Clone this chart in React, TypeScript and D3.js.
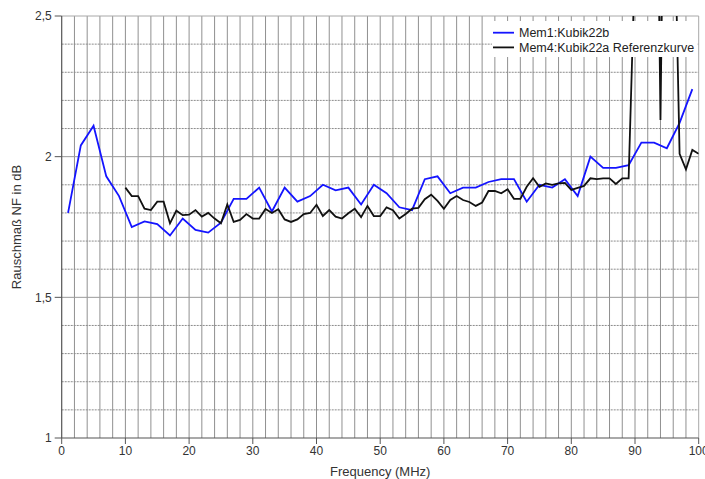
import React from "react";
import * as d3 from "d3";

// Mem1: Kubik22b, measured every 2 MHz
const blueFreq = [1, 3, 5, 7, 9, 11, 13, 15, 17, 19, 21, 23, 25, 27, 29, 31, 33, 35, 37, 39,
  41, 43, 45, 47, 49, 51, 53, 55, 57, 59, 61, 63, 65, 67, 69, 71, 73, 75, 77, 79,
  81, 83, 85, 87, 89, 91, 93, 95, 97, 99];
const blueNF = [1.80, 2.04, 2.11, 1.93, 1.86, 1.75, 1.77, 1.76, 1.72, 1.78, 1.74, 1.73, 1.765, 1.85, 1.85, 1.89, 1.805, 1.89, 1.84, 1.86,
  1.90, 1.88, 1.89, 1.83, 1.90, 1.87, 1.82, 1.81, 1.92, 1.93, 1.87, 1.89, 1.89, 1.91, 1.92, 1.92, 1.84, 1.90, 1.89, 1.92,
  1.86, 2.00, 1.96, 1.96, 1.97, 2.05, 2.05, 2.03, 2.12, 2.24];

// Mem4: Kubik22a Referenzkurve, measured every 1 MHz
const blackFreq = [10, 11, 12, 13, 14, 15, 16, 17, 18, 19, 20, 21, 22, 23, 24, 25, 26, 27, 28, 29,
  30, 31, 32, 33, 34, 35, 36, 37, 38, 39, 40, 41, 42, 43, 44, 45, 46, 47, 48, 49,
  50, 51, 52, 53, 54, 55, 56, 57, 58, 59, 60, 61, 62, 63, 64, 65, 66, 67, 68, 69,
  70, 71, 72, 73, 74, 75, 76, 77, 78, 79, 80, 81, 82, 83, 84, 85, 86, 87, 88, 89,
  90, 91, 92, 93, 94, 95, 96, 97, 98, 99, 100];
const blackNF = [1.89, 1.86, 1.86, 1.815, 1.81, 1.84, 1.84, 1.763, 1.808, 1.792, 1.794, 1.81, 1.787, 1.80, 1.78, 1.763, 1.83, 1.768, 1.775, 1.796,
  1.78, 1.78, 1.814, 1.80, 1.813, 1.777, 1.768, 1.777, 1.796, 1.80, 1.829, 1.789, 1.81, 1.787, 1.78, 1.799, 1.815, 1.785, 1.825, 1.789,
  1.789, 1.82, 1.81, 1.78, 1.796, 1.815, 1.818, 1.849, 1.865, 1.843, 1.815, 1.846, 1.86, 1.846, 1.839, 1.825, 1.837, 1.878, 1.878, 1.87,
  1.884, 1.85, 1.85, 1.893, 1.923, 1.893, 1.905, 1.90, 1.905, 1.907, 1.882, 1.889, 1.896, 1.923, 1.92, 1.923, 1.923, 1.903, 1.923, 1.923,
  2.7, 3.3, 3.6, 4.0, 2.13, 4.0, 3.1, 2.01, 1.955, 2.024, 2.01];

const xTicks = [0, 10, 20, 30, 40, 50, 60, 70, 80, 90, 100];
const yTicks = [1, 1.5, 2, 2.5];
const yTickLabels = ["1", "1,5", "2", "2,5"];

const legendItems = [
  { name: "Mem1:Kubik22b", color: "#1414ff" },
  { name: "Mem4:Kubik22a Referenzkurve", color: "#111111" },
];

const W = 705;
const H = 479;
const font = "'Liberation Sans', Arial, sans-serif";

export default function App() {
  const x = d3.scaleLinear().domain([0, 100]).range([61.7, 698.7]);
  const y = d3.scaleLinear().domain([1, 2.5]).range([438, 16]);

  const line = d3.line<[number, number]>()
    .x(d => x(d[0]))
    .y(d => y(d[1]));

  const blue = blueFreq.map((f, i) => [f, blueNF[i]] as [number, number]);
  const black = blackFreq.map((f, i) => [f, blackNF[i]] as [number, number]);

  const vGrid = d3.range(2, 100, 2);
  const hGrid = d3.range(11, 25, 1).map(v => v / 10).filter(v => Math.abs(v * 10 % 5) > 0.01);
  const [x0, x1] = x.range();
  const [yb, yt] = y.range();

  return (
    <div style={{ position: "absolute", left: 0, top: 0 }}>
      <svg width={W} height={H} style={{ display: "block", background: "#fff" }}>
        <defs>
          <clipPath id="plot">
            <rect x={x0} y={yt} width={x1 - x0} height={yb - yt} />
          </clipPath>
        </defs>

        {/* grid */}
        {vGrid.map(f => (
          <line key={"v" + f} x1={x(f)} x2={x(f)} y1={yt} y2={yb} stroke="#909090" strokeWidth={1} />
        ))}
        {hGrid.map(v => (
          <line key={"h" + v} x1={x0} x2={x1} y1={y(v)} y2={y(v)} stroke="#8c8c8c" strokeWidth={1} strokeDasharray="2,1" />
        ))}
        {[1.5, 2].map(v => (
          <line key={"m" + v} x1={x0} x2={x1} y1={y(v)} y2={y(v)} stroke="#9a9a9a" strokeWidth={1} />
        ))}
        <line x1={x0} x2={x1} y1={yt} y2={yt} stroke="#a8a8a8" />
        <line x1={x1} x2={x1} y1={yt} y2={yb} stroke="#a8a8a8" />

        {/* series */}
        <g clipPath="url(#plot)">
          <path d={line(blue) ?? ""} fill="none" stroke={legendItems[0].color} strokeWidth={1.8} strokeLinejoin="miter" />
          <path d={line(black) ?? ""} fill="none" stroke={legendItems[1].color} strokeWidth={1.8} strokeLinejoin="miter" />
        </g>

        {/* axes */}
        <line x1={x0} x2={x0} y1={yt} y2={yb} stroke="#555" strokeWidth={1.2} />
        <line x1={x0} x2={x1} y1={yb} y2={yb} stroke="#555" strokeWidth={1.2} />
        {yTicks.map((v, i) => (
          <g key={"yt" + v}>
            <line x1={x0 - 7} x2={x0} y1={y(v)} y2={y(v)} stroke="#555" />
            <text x={x0 - 10} y={y(v)} dy="0.35em" textAnchor="end" fontFamily={font} fontSize={12} fill="#333">
              {yTickLabels[i]}
            </text>
          </g>
        ))}
        {xTicks.map(f => (
          <g key={"xt" + f}>
            <line x1={x(f)} x2={x(f)} y1={yb} y2={yb + 6} stroke="#555" />
            <text x={x(f)} y={yb + 17} textAnchor="middle" fontFamily={font} fontSize={12} fill="#333">
              {f}
            </text>
          </g>
        ))}
        <text x={(x0 + x1) / 2} y={476} textAnchor="middle" fontFamily={font} fontSize={13} fill="#333">
          Frequency (MHz)
        </text>
        <text transform={`translate(21,${(yt + yb) / 2}) rotate(-90)`} textAnchor="middle" fontFamily={font} fontSize={13} fill="#333">
          Rauschmaß NF in dB
        </text>

        {/* legend */}
        <rect x={492} y={21} width={205} height={36} fill="#fff" />
        {legendItems.map((it, i) => (
          <g key={it.name} transform={`translate(493,${32.7 + i * 14.7})`}>
            <line x1={0} x2={21} y1={0} y2={0} stroke={it.color} strokeWidth={1.8} />
            <text x={26} y={0} dy="0.35em" fontFamily={font} fontSize={12.5} fill="#222">
              {it.name}
            </text>
          </g>
        ))}
      </svg>
    </div>
  );
}
